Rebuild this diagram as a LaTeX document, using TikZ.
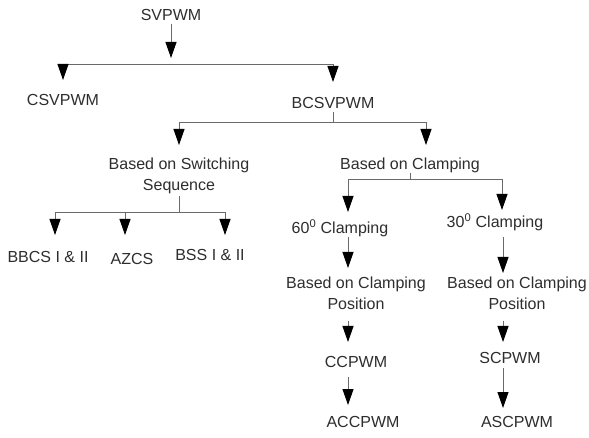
\documentclass[tikz,border=0pt]{standalone}
\usepackage{fontspec}
\setmainfont{Liberation Sans}
\usetikzlibrary{arrows.meta}
\definecolor{txt}{HTML}{2E2E2E}
\definecolor{ln}{HTML}{6A6A6A}
\begin{document}
\begin{tikzpicture}[x=1pt,y=-1pt,
  lbl/.style={font=\fontsize{16}{20.5}\selectfont, text=txt, inner sep=0pt, anchor=north, text height=11.5pt, text depth=3.4pt},
  lbl2/.style={font=\fontsize{16}{20.5}\selectfont, text=txt, inner sep=0pt, anchor=north, align=center},
  wire/.style={draw=ln, line width=0.9pt},
  arr/.style={wire, -{Triangle[length=16pt,width=11pt,color=black]}}]
\useasboundingbox[fill=white] (0,0) rectangle (589,438);
% nodes
\node[lbl] (svpwm) at (171,8.5) {SVPWM};
\node[lbl] (csvpwm) at (63,94) {CSVPWM};
\node[lbl] (bcsvpwm) at (333,97) {BCSVPWM};
\node[lbl2] (bss) at (179,158) {Based on Switching\\Sequence};
\node[lbl] (bcl) at (410,158) {Based on Clamping};
\node[lbl] (bbcs) at (48,251) {BBCS I \& II};
\node[lbl] (azcs) at (132,253) {AZCS};
\node[lbl] (bssii) at (210,249) {BSS I \& II};
\node[lbl] (c60) at (340,222) {60\textsuperscript{0} Clamping};
\node[lbl] (c30) at (495,216) {30\textsuperscript{0} Clamping};
\node[lbl2] (pos60) at (356,277) {Based on Clamping\\Position};
\node[lbl2] (pos30) at (517,277) {Based on Clamping\\Position};
\node[lbl] (ccpwm) at (356,356) {CCPWM};
\node[lbl] (scpwm) at (510,352) {SCPWM};
\node[lbl] (accpwm) at (363,416) {ACCPWM};
\node[lbl] (ascpwm) at (517,416) {ASCPWM};
% junctions
\coordinate (b1) at (171,64);
\coordinate (b2) at (333,122);
\coordinate (b3) at (179,212);
\coordinate (b4) at (410,179);
% level 1
\draw[arr, shorten >=6pt] (svpwm.south) -- (b1);
\draw[arr, shorten >=14pt] (b1) -| (csvpwm.north);
\draw[arr, shorten >=15pt] (b1) -| (bcsvpwm.north);
% level 2
\draw[wire] (bcsvpwm.south) -- (b2);
\draw[arr, shorten >=13pt] (b2) -| (bss.north);
\draw[arr, shorten >=13pt] (b2) -| ([xshift=16pt]bcl.north);
% switching sequence
\draw[wire, shorten <=2pt] (bss.south) -- (b3);
\draw[arr, shorten >=16pt] (b3) -| ([xshift=7pt]bbcs.north);
\draw[arr, shorten >=18pt] (b3) -| ([xshift=-7pt]azcs.north);
\draw[arr, shorten >=14pt] (b3) -| ([xshift=15pt]bssii.north);
% clamping
\draw[wire] (bcl.south) -- (b4);
\draw[arr, shorten >=10pt] (b4) -| ([xshift=8pt]c60.north);
\draw[arr, shorten >=6pt] (b4) -| ([xshift=7pt]c30.north);
% 60 branch
\draw[arr, shorten >=9pt] ([xshift=8pt]c60.south) -- ([xshift=-8pt]pos60.north);
\draw[arr, shorten <=11pt, shorten >=14pt] ([xshift=-8pt]pos60.south) -- ([xshift=-8pt]ccpwm.north);
\draw[arr, shorten <=6pt, shorten >=11pt] ([xshift=-8pt]ccpwm.south) -- ([xshift=-15pt]accpwm.north);
% 30 branch
\draw[arr, shorten <=6pt, shorten >=4pt] ([xshift=8pt]c30.south) -- ([xshift=-14pt]pos30.north);
\draw[arr, shorten <=11pt, shorten >=10pt] ([xshift=-14pt]pos30.south) -- ([xshift=-7pt]scpwm.north);
\draw[arr, shorten <=1pt, shorten >=8pt] ([xshift=-7pt]scpwm.south) -- ([xshift=-14pt]ascpwm.north);
\end{tikzpicture}
\end{document}
